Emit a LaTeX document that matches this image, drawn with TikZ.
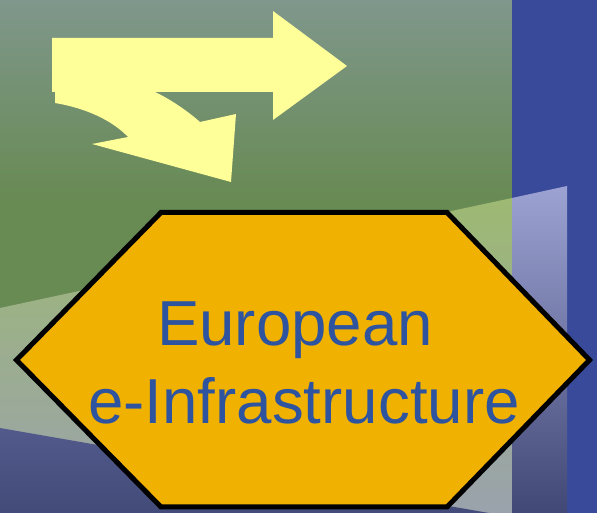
\documentclass[tikz,border=0pt]{standalone}
\usepackage{fontspec}
\setmainfont{Liberation Sans}
\usepackage{tikz}
\usepackage{xcolor}
\usetikzlibrary{positioning}

\definecolor{bgtop}{RGB}{127,151,140}
\definecolor{bggreen}{RGB}{104,138,83}
\definecolor{striptop}{RGB}{157,185,115}
\definecolor{stripbot}{RGB}{154,162,172}
\definecolor{lowtop}{RGB}{82,90,140}
\definecolor{lowbot}{RGB}{66,74,120}
\definecolor{bandblue}{RGB}{57,74,154}
\definecolor{coltop}{RGB}{156,163,210}
\definecolor{colbot}{RGB}{66,72,118}
\definecolor{arrowyellow}{RGB}{255,255,153}
\definecolor{hexfill}{RGB}{241,177,0}
\definecolor{textblue}{RGB}{46,84,160}

\begin{document}
\begin{tikzpicture}[x=1pt, y=1pt,
    arrowshape/.style={fill=arrowyellow},
    hexshape/.style={fill=hexfill, draw=black, line width=5pt, line join=miter},
    title/.style={text=textblue, inner sep=0pt, anchor=base, font=\fontsize{63.6}{78}\selectfont}]
    \useasboundingbox (0,0) rectangle (597,513);

    \fill[bggreen] (0,0) rectangle (512,313);
    \shade[top color=bgtop, bottom color=bggreen] (0,313) rectangle (512,513);
    \shade[top color=striptop, bottom color=stripbot] (0,205) -- (512,315) -- (512,0) -- (0,0) -- cycle;
    \shade[top color=lowtop, bottom color=lowbot] (0,85) -- (512,-4) -- (0,-4) -- cycle;
    \fill[bandblue] (512,0) rectangle (597,513);
    \shade[top color=coltop, bottom color=colbot] (512,315) -- (567,327) -- (567,0) -- (512,0) -- cycle;

    \fill[arrowshape] (55,433) -- (55,410) .. controls (85,405) and (112,393) .. (128,376)
        -- (92,369) -- (231,331) -- (236,399) -- (200,391)
        .. controls (190,400) and (172,413) .. (155,421) -- (100,433) -- cycle;
    \fill[arrowshape] (52,475) -- (273,475) -- (273,502) -- (347,447) -- (273,393) -- (273,421) -- (52,421) -- cycle;

    \draw[hexshape] (16.5,153) -- (161,300.5) -- (447,300.5) -- (589.5,153) -- (447,6) -- (161,6) -- cycle;

    \node[title] (european) at (295,167) {European};
    \node[title] (einfra) at (304,89) {e-Infrastructure};
\end{tikzpicture}
\end{document}
